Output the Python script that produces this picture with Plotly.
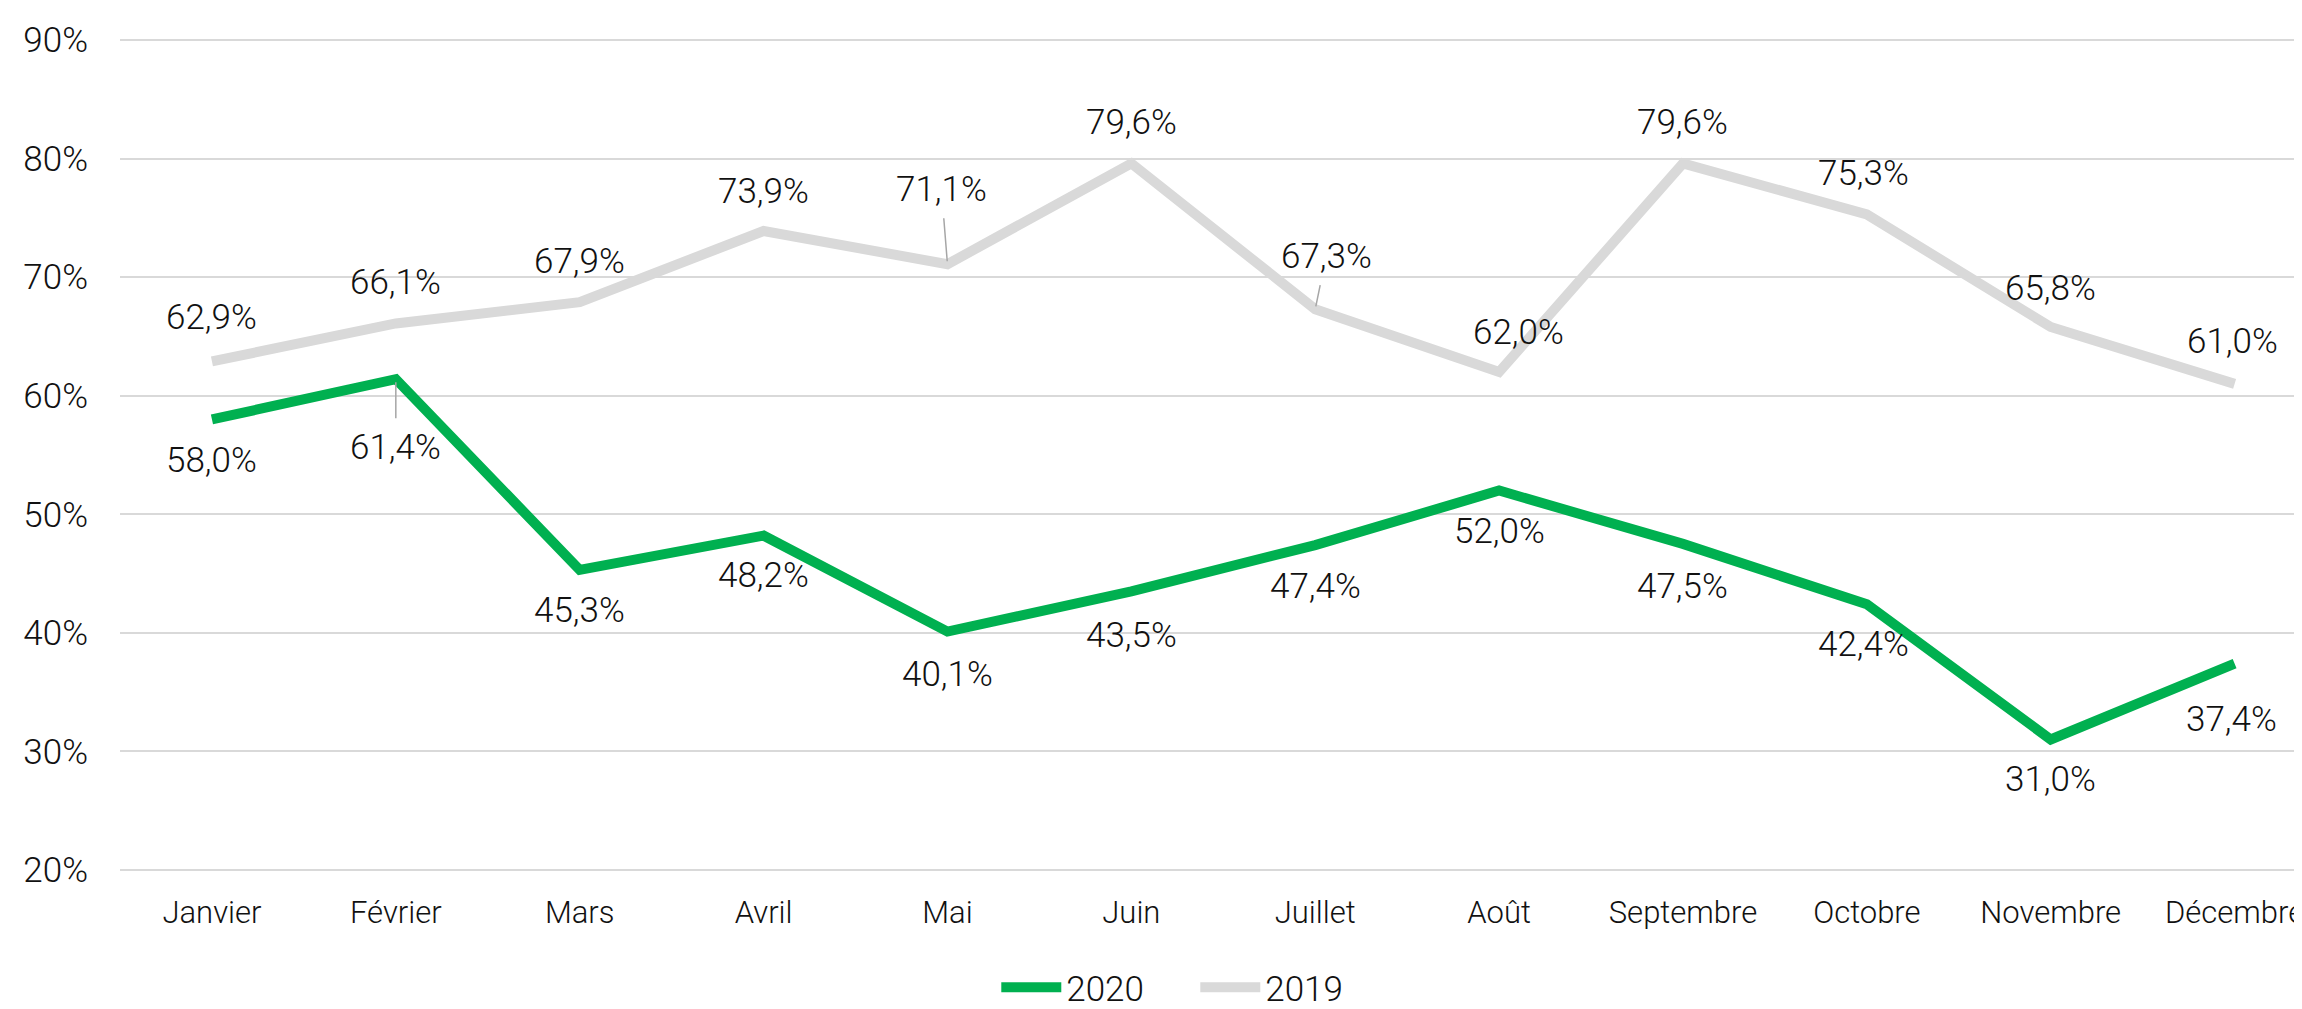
import plotly.graph_objects as go

months = ["Janvier", "Février", "Mars", "Avril", "Mai", "Juin", "Juillet",
          "Août", "Septembre", "Octobre", "Novembre", "Décembre"]
v2020 = [58.0, 61.4, 45.3, 48.2, 40.1, 43.5, 47.4, 52.0, 47.5, 42.4, 31.0, 37.4]
v2019 = [62.9, 66.1, 67.9, 73.9, 71.1, 79.6, 67.3, 62.0, 79.6, 75.3, 65.8, 61.0]
y_ticks = [20, 30, 40, 50, 60, 70, 80, 90]

GREEN = "#00B050"
GREY = "#D9D9D9"
FONT = "Roboto"
W = 300
TXT = "#111111"

# label placement (screen pixel offsets from point; dy positive = down), leader flag
off2019 = [(0, -44, False), (0, -41, False), (0, -41, False), (0, -40, False),
           (-6, -75, True), (0, -41, False), (11, -53, True), (19, -40, False),
           (0, -41, False), (-3, -41, False), (0, -39, False), (-2, -42, False)]
off2020 = [(0, 41, False), (0, 68, True), (0, 41, False), (0, 40, False),
           (0, 43, False), (0, 44, False), (0, 41, False), (0, 41, False),
           (0, 43, False), (-3, 40, False), (0, 40, False), (-3, 56, False)]


def fmt(v):
    return f"{v:.1f}".replace(".", ",") + "%"


def font(size):
    return dict(family=FONT, size=size, color=TXT, weight=W)


fig = go.Figure()
fig.add_trace(go.Scatter(x=months, y=v2020, mode="lines", name="2020",
                         line=dict(color=GREEN, width=10), hoverinfo="skip"))
fig.add_trace(go.Scatter(x=months, y=v2019, mode="lines", name="2019",
                         line=dict(color=GREY, width=10), hoverinfo="skip"))

annots = []
for vals, offs in ((v2019, off2019), (v2020, off2020)):
    for m, v, (dx, dy, lead) in zip(months, vals, offs):
        if lead:
            annots.append(dict(x=m, y=v, xref="x", yref="y", text=fmt(v),
                               showarrow=True, ax=dx, ay=dy, arrowhead=0,
                               arrowwidth=1.5, arrowcolor="#A6A6A6",
                               standoff=3, borderpad=8, font=font(35)))
        else:
            annots.append(dict(x=m, y=v, xref="x", yref="y", text=fmt(v),
                               showarrow=False, xshift=dx, yshift=-dy,
                               xanchor="center", yanchor="middle",
                               font=font(35)))

fig.update_layout(
    width=2302, height=1009,
    margin=dict(l=112, r=0, t=31, b=131),
    paper_bgcolor="white", plot_bgcolor="white",
    font=font(33),
    showlegend=True,
    legend=dict(orientation="h", x=0.491, y=-0.14, xanchor="center",
                yanchor="middle", font=font(35),
                itemwidth=60, entrywidth=124, entrywidthmode="pixels",
                tracegroupgap=0),
    annotations=annots,
    xaxis=dict(type="category", range=[-0.5, 11.41], showgrid=False,
               showline=False, zeroline=False, ticks="", automargin=False,
               ticklabelstandoff=20, tickfont=font(31)),
    yaxis=dict(range=[19.9, 90.1], tickvals=y_ticks,
               ticktext=[f"{t}%" for t in y_ticks],
               showgrid=True, gridcolor=GREY, gridwidth=2,
               showline=False, zeroline=False, ticks="", automargin=False,
               ticklabelstandoff=31, tickfont=font(35)),
)

fig.write_html("out.html")
